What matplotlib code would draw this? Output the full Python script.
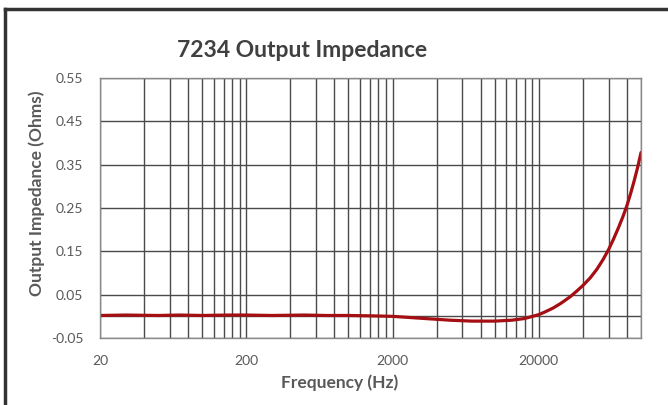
import matplotlib.pyplot as plt
import numpy as np
from matplotlib.lines import Line2D

# data
freq = [20, 30, 50, 70, 100, 150, 200, 300, 500, 700, 1000, 1500, 2000, 3000, 5000,
        7000, 10000, 13000, 16000, 20000, 22000, 25000, 28000, 30000, 33000, 36000,
        40000, 45000, 50000, 55000, 60000, 65000, 70000, 75000, 80000, 85000,
        90000, 95000, 100000]
impedance = [0.002, 0.003, 0.002, 0.003, 0.002, 0.003, 0.003, 0.002, 0.003, 0.002,
             0.002, 0.001, 0.0, -0.004, -0.009, -0.011, -0.011, -0.009, -0.005,
             0.004, 0.010, 0.019, 0.029, 0.036, 0.046, 0.057, 0.071, 0.089, 0.109,
             0.131, 0.154, 0.179, 0.204, 0.229, 0.255, 0.284, 0.314, 0.345, 0.378]
major_x = [20, 200, 2000, 20000]
yticks = [-0.05, 0.05, 0.15, 0.25, 0.35, 0.45, 0.55]

plt.rcParams['font.family'] = ['Lato', 'DejaVu Sans']

fig = plt.figure(figsize=(6.68, 4.05), dpi=100)
ax = fig.add_axes([0.1497, 0.1654, 0.8099, 0.642])

# minor grid positions: 20, 40, ... 200, 400, ... (Excel style)
minor_x = []
for dec in [20, 200, 2000, 20000]:
    for n in range(2, 10):
        if dec * n <= 100000:
            minor_x.append(dec * n)

ax.set_xscale('log')
ax.set_xlim(20, 100000)
ax.set_ylim(-0.05, 0.55)
ax.set_xticks(major_x)
ax.set_xticklabels([str(v) for v in major_x])
ax.set_xticks(minor_x, minor=True)
ax.set_xticklabels([], minor=True)
ax.set_yticks(yticks)
ax.set_yticklabels(['%.2f' % v for v in yticks])

ax.grid(True, which='both', axis='x', color='#4a4a4a', lw=1.0)
ax.grid(True, which='major', axis='y', color='#4a4a4a', lw=1.0)
ax.axhline(0, color='#4a4a4a', lw=1.0)
ax.set_axisbelow(True)

ax.plot(freq, impedance, color='#a50e12', lw=2.3, solid_capstyle='round')

ax.tick_params(which='both', length=0, labelsize=10, colors='#595959')
ax.tick_params(axis='y', pad=12)
ax.tick_params(axis='x', pad=12)
for s in ax.spines.values():
    s.set_color('#8a8a8a')
    s.set_linewidth(1.0)

ax.set_xlabel('Frequency (Hz)', fontsize=12.5, fontweight='bold', color='#595959')
ax.set_ylabel('Output Impedance (Ohms)', fontsize=12.5, fontweight='bold', color='#595959')
ax.xaxis.set_label_coords(0.4436, -0.14)
ax.yaxis.set_label_coords(-0.102, 0.558)
fig.text(0.452, 0.875, '7234 Output Impedance', fontsize=16.5, fontweight='bold',
         color='#404040', ha='center', va='center')

# outer frame (top and left edges)
fig.add_artist(Line2D([0.007, 1.0], [0.978, 0.978], color='#333333', lw=2.5,
                      transform=fig.transFigure))
fig.add_artist(Line2D([0.008, 0.008], [0.0, 0.978], color='#333333', lw=2.5,
                      transform=fig.transFigure))

fig.savefig('out.png', dpi=100)
